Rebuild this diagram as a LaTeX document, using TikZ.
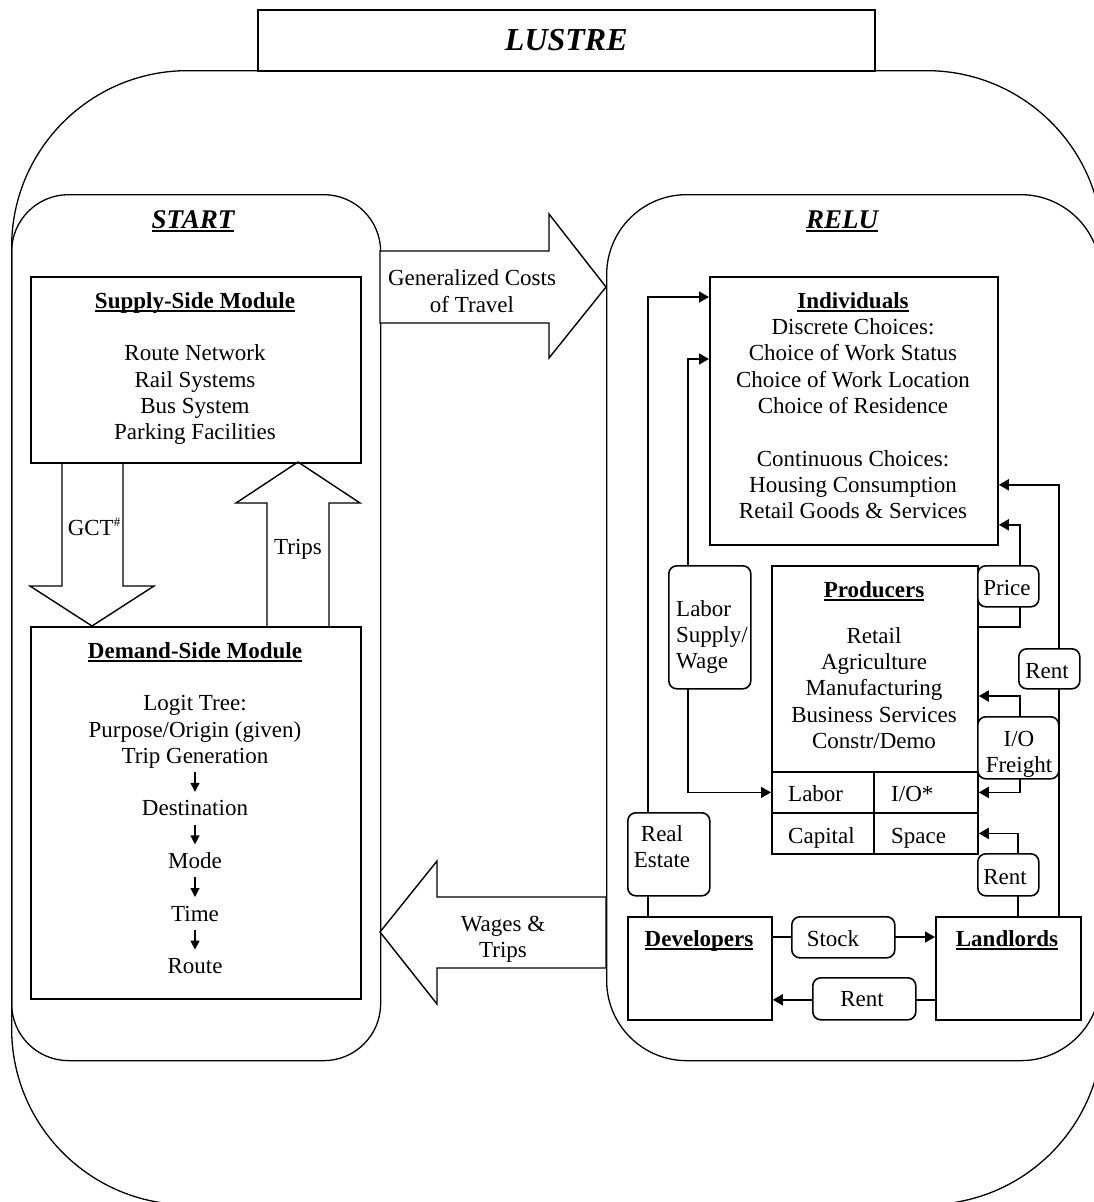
\documentclass[tikz,border=0pt]{standalone}
\usepackage{fontspec}
\setmainfont{Liberation Serif}
\usetikzlibrary{arrows.meta,calc}
\newcommand\myul[1]{\leavevmode\setbox0=\hbox{#1}\rlap{\rule[-4pt]{\wd0}{2pt}}\box0}
\newcommand\mystrut{\rule{0pt}{18pt}}
\begin{document}
\begin{tikzpicture}[x=1pt,y=-1pt, font=\fontsize{23}{26.3}\selectfont,
 container/.style={draw, line width=1.3pt, inner sep=0pt, anchor=north west},
 box/.style={draw, line width=1.8pt, inner sep=0pt, anchor=north west},
 lbl/.style={draw, line width=1.6pt, rounded corners=8pt, fill=white, inner sep=0pt, anchor=north west},
 txt/.style={inner sep=0pt, align=center, anchor=north},
 word/.style={inner sep=0pt, anchor=base},
 conn/.style={line width=1.8pt},
 arr/.style={conn, -{Triangle[length=10pt,width=11pt]}},
 darr/.style={conn, {Triangle[length=10pt,width=11pt]}-{Triangle[length=10pt,width=11pt]}},
 tinyarr/.style={line width=1.2pt, -{Triangle[length=9pt,width=9pt]}},
 blockarr/.style={draw, line width=1.4pt, fill=white},
 ttl/.style={inner sep=0pt, anchor=base, font=\fontsize{27}{30}\selectfont\bfseries\itshape}]
\useasboundingbox (0,0) rectangle (1093,1202);

% containers
\node[container, rounded corners=176pt, minimum width=1091pt, minimum height=1134pt] (frame) at (11,70) {};
\node[container, line width=1.6pt, fill=white, minimum width=617pt, minimum height=61pt] (lustre) at (257,9) {};
\node[inner sep=0pt, font=\fontsize{32}{36}\selectfont\bfseries\itshape] (lustretxt) at (lustre.center) {LUSTRE};
\node[container, rounded corners=57pt, minimum width=369pt, minimum height=866pt] (start) at (11,194) {};
\node[container, rounded corners=80pt, minimum width=494pt, minimum height=866pt] (relu) at (606,194) {};
\node[ttl] (starttxt) at (193,228) {\myul{START}};
\node[ttl] (relutxt) at (842,228) {\myul{RELU}};

% block arrows between START and RELU
\draw[blockarr] (380,251) -- (549,251) -- (549,214) -- (606,287) -- (549,358) -- (549,323) -- (380,323) -- cycle;
\node[txt, anchor=center] (gcostxt) at (472,291) {Generalized Costs\\of Travel};
\draw[blockarr] (606,897) -- (437,897) -- (437,861) -- (380,932) -- (437,1004) -- (437,968) -- (606,968) -- cycle;
\node[txt, anchor=center] (wagetxt) at (503,939) {Wages \&\\Trips};

% START content
\draw[blockarr] (62,462) -- (62,586) -- (30,586) -- (92,626) -- (154,586) -- (123,586) -- (123,462);
\draw[blockarr] (267,626) -- (267,503) -- (236,503) -- (298,462) -- (360,503) -- (329,503) -- (329,626);
\node[word] (gcttxt) at (94,535) {GCT{\fontsize{13}{13}\selectfont\raisebox{9pt}{\#}}};
\node[word] (tripstxt) at (298,554) {Trips};
\node[box, minimum width=330pt, minimum height=186pt] (supply) at (30,276) {};
\node[box, minimum width=330pt, minimum height=372pt] (demand) at (30,626) {};
\node[txt] (suptxt) at (195,290) {\mystrut\myul{\textbf{Supply-Side Module}}\\[26.3pt]Route Network\\Rail Systems\\Bus System\\Parking Facilities};
\node[txt] (dmtxt) at (195,640) {\mystrut\myul{\textbf{Demand-Side Module}}\\[26.3pt]Logit Tree:\\Purpose/Origin (given)};
\node[word] (tg) at (195,763.2) {Trip Generation};
\node[word] (dest) at (195,815.8) {Destination};
\node[word] (mode) at (195,868.4) {Mode};
\node[word] (time) at (195,921) {Time};
\node[word] (route) at (195,973.6) {Route};
\draw[tinyarr] ($(tg.base)+(0,9)$) -- ($(dest.base)+(0,-24)$);
\draw[tinyarr] ($(dest.base)+(0,9)$) -- ($(mode.base)+(0,-24)$);
\draw[tinyarr] ($(mode.base)+(0,9)$) -- ($(time.base)+(0,-24)$);
\draw[tinyarr] ($(time.base)+(0,9)$) -- ($(route.base)+(0,-24)$);

% RELU boxes
\node[box, minimum width=288pt, minimum height=268pt] (ind) at (709,276) {};
\node[box, minimum width=206pt, minimum height=288pt] (prod) at (771,565) {};
\node[box, minimum width=102pt, minimum height=41pt] (labc) at (771,771) {};
\node[box, minimum width=104pt, minimum height=41pt] (ioc) at (873,771) {};
\node[box, minimum width=102pt, minimum height=41pt] (capc) at (771,812) {};
\node[box, minimum width=104pt, minimum height=41pt] (spc) at (873,812) {};
\node[box, minimum width=144pt, minimum height=103pt] (dev) at (627,916) {};
\node[box, minimum width=145pt, minimum height=103pt] (land) at (935,916) {};

\node[txt] (indtxt) at (853,290) {\mystrut\myul{\textbf{Individuals}}\\Discrete Choices:\\Choice of Work Status\\Choice of Work Location\\Choice of Residence\\[26.3pt]Continuous Choices:\\Housing Consumption\\Retail Goods \& Services};
\node[txt] (prodtxt) at (874,579) {\mystrut\myul{\textbf{Producers}}\\[19.7pt]Retail\\Agriculture\\Manufacturing\\Business Services\\Constr/Demo};
\node[word, anchor=base west] (labtxt) at (788,801) {Labor};
\node[word, anchor=base west] (iotxt) at (891,801) {I/O*};
\node[word, anchor=base west] (captxt) at (788,843) {Capital};
\node[word, anchor=base west] (sptxt) at (891,843) {Space};
\node[word] (devtxt) at (699,946) {\myul{\textbf{Developers}}};
\node[word] (landtxt) at (1007,946) {\myul{\textbf{Landlords}}};

% connectors
\draw[arr] ($(dev.north west)+(21,0)$) |- ($(ind.north west)+(0,21)$);
\draw[darr] ($(ind.north west)+(0,83)$) -- ++(-21,0) |- (labc.west);
\draw[arr] ($(prod.north east)+(0,62)$) -- ++(41,0) |- ($(ind.south east)+(0,-21)$);
\draw[arr] ($(land.north west)+(124,0)$) |- ($(ind.south east)+(0,-61)$);
\draw[darr] ($(prod.north east)+(0,131)$) -- ++(41,0) |- (ioc.east);
\draw[arr] ($(land.north west)+(83,0)$) |- (spc.east);
\draw[arr] ($(dev.north east)+(0,21)$) -- ($(land.north west)+(0,21)$);
\draw[arr] ($(land.south west)+(0,-21)$) -- ($(dev.south east)+(0,-21)$);

% connector labels
\node[lbl, minimum width=82pt, minimum height=123pt] (lsw) at (668,565) {};
\node[txt, align=left, anchor=north west] (lswtxt) at (676,598) {\mystrut Labor\\Supply/\\Wage};
\node[lbl, minimum width=82pt, minimum height=83pt] (re) at (627,812) {};
\node[txt] (retxt) at (662,823) {\mystrut Real\\Estate};
\node[lbl, minimum width=61pt, minimum height=41pt] (price) at (977,565) {};
\node[word] (pricetxt) at (1007,595) {Price};
\node[lbl, minimum width=61pt, minimum height=40pt] (renta) at (1018,648) {};
\node[word] (rentatxt) at (1047,678) {Rent};
\node[lbl, minimum width=81pt, minimum height=62pt] (iof) at (977,716) {};
\node[txt] (ioftxt) at (1019,728) {\mystrut I/O\\Freight};
\node[lbl, minimum width=61pt, minimum height=42pt] (rentb) at (977,853) {};
\node[word] (rentbtxt) at (1005,884) {Rent};
\node[lbl, minimum width=103pt, minimum height=41pt] (stock) at (791,916) {};
\node[word] (stocktxt) at (833,946) {Stock};
\node[lbl, minimum width=103pt, minimum height=42pt] (rentc) at (812,977) {};
\node[word] (rentctxt) at (862,1006) {Rent};
\end{tikzpicture}
\end{document}
